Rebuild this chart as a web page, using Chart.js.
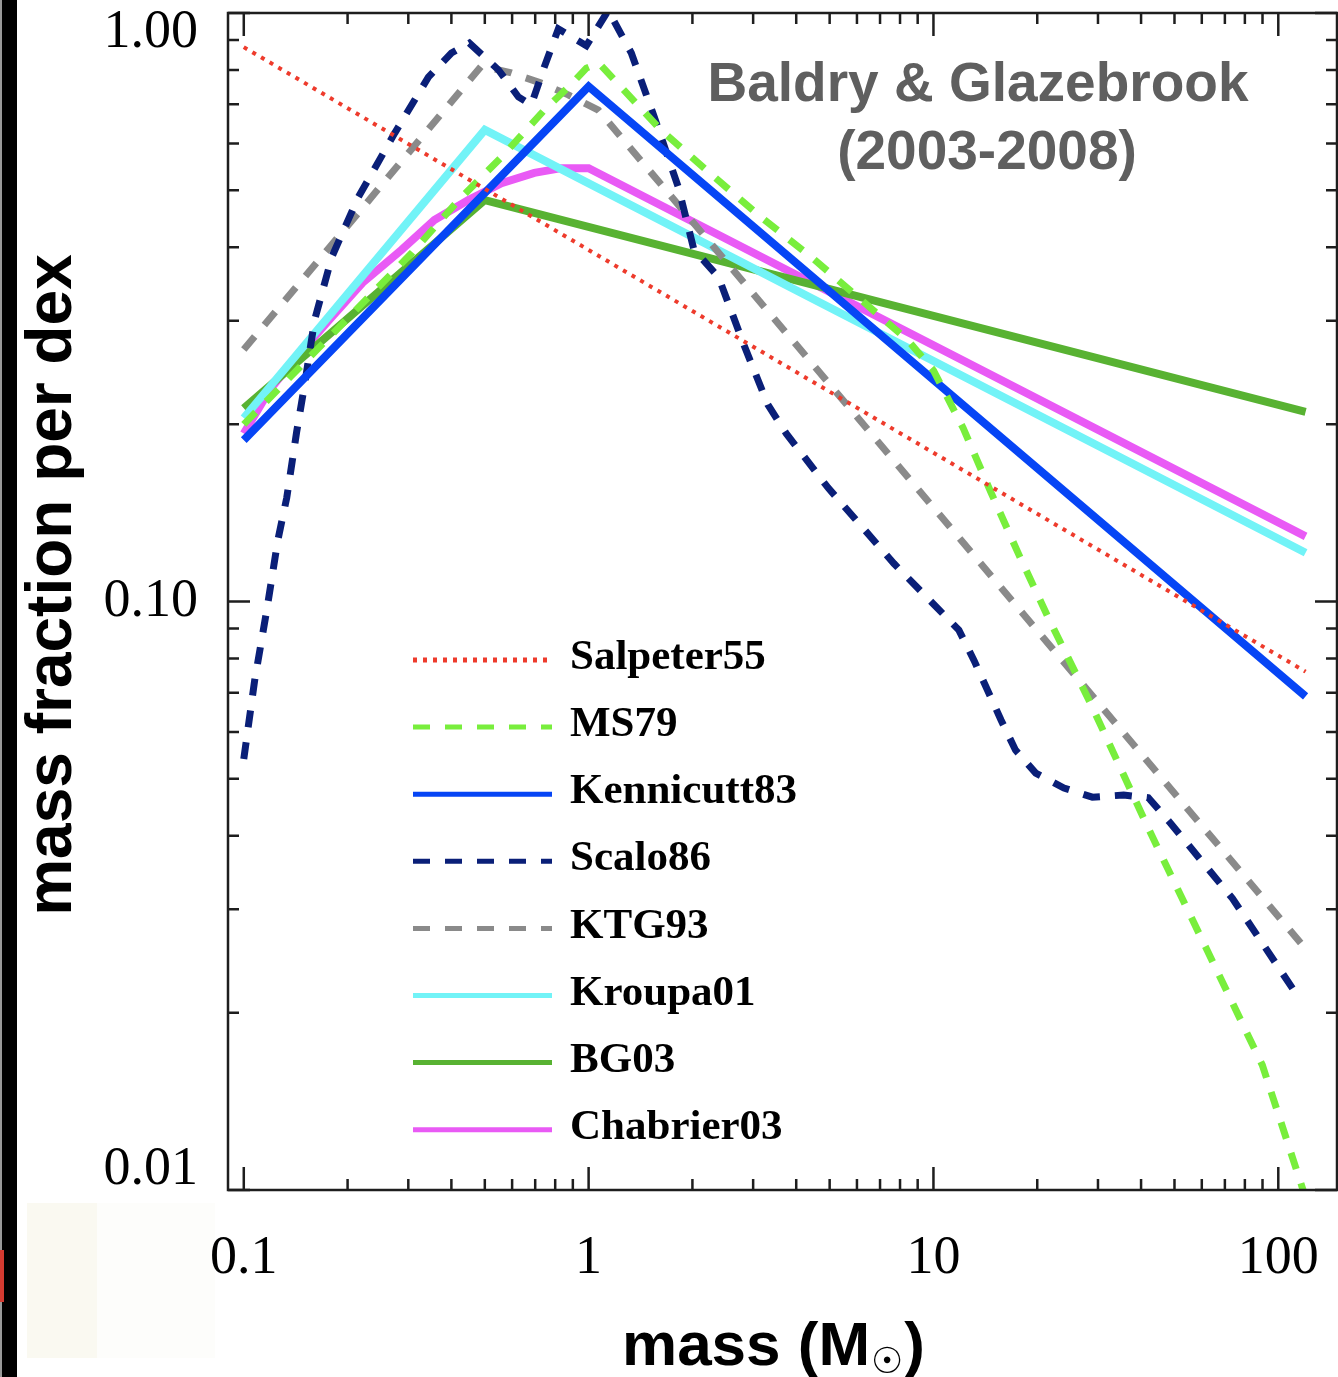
<!DOCTYPE html>
<html>
<head>
<meta charset="utf-8">
<title>IMF - mass fraction per dex</title>
<script src="https://cdn.jsdelivr.net/npm/chart.js@4.4.1/dist/chart.umd.min.js"></script>
<style>
    html, body { margin: 0; padding: 0; background: #fff; }
    #wrap { width: 1338px; height: 1377px; position: relative; }
</style>
</head>
<body>
<div id="wrap"><canvas id="myChart"></canvas></div>
<script>
// [mass (Msun), mass fraction per dex]
const salpeter55 = [[0.1, 0.875], [120, 0.076]];
const ms79 = [[0.1, 0.20], [0.307, 0.391], [0.42, 0.481], [0.559, 0.569], [0.744, 0.684], [0.873, 0.748],
    [0.985, 0.806], [1.07, 0.822], [1.19, 0.769], [1.62, 0.633], [2.31, 0.527], [3.16, 0.450], [4.42, 0.385],
    [6.04, 0.329], [8.43, 0.278], [10.0, 0.247], [12.2, 0.197], [14.7, 0.153], [17.7, 0.120], [21.5, 0.094],
    [28.6, 0.067], [41.8, 0.0414], [61.5, 0.0259], [89.9, 0.0163], [118, 0.0100]];
const kennicutt83 = [[0.1, 0.188], [1, 0.75], [120, 0.069]];
const scalo86 = [[0.1, 0.054], [0.1076, 0.0736], [0.1166, 0.0967], [0.1255, 0.127], [0.1332, 0.150],
    [0.1423, 0.194], [0.150, 0.233], [0.1605, 0.301], [0.180, 0.385], [0.215, 0.487], [0.274, 0.625],
    [0.343, 0.778], [0.400, 0.855], [0.451, 0.889], [0.548, 0.80], [0.626, 0.72], [0.682, 0.698],
    [0.744, 0.81], [0.817, 0.94], [0.985, 0.88], [1.14, 1.01], [1.33, 0.855], [1.55, 0.666], [1.82, 0.506],
    [2.02, 0.396], [2.38, 0.356], [2.82, 0.273], [3.31, 0.216], [3.74, 0.193], [4.95, 0.156], [7.68, 0.116],
    [11.85, 0.0894], [13.1, 0.0795], [15.7, 0.0629], [17.3, 0.0559], [19.8, 0.0511], [23.9, 0.0482],
    [28.9, 0.0465], [35.6, 0.0469], [42.0, 0.0464], [48.7, 0.0420], [73.6, 0.0313], [116, 0.021]];
const ktg93 = [[0.1, 0.268], [0.489, 0.813], [0.597, 0.791], [0.729, 0.76], [0.873, 0.726], [1.067, 0.684], [118, 0.026]];
const kroupa01 = [[0.1, 0.205], [0.5, 0.633], [120, 0.121]];
const bg03 = [[0.1, 0.213], [0.5, 0.481], [120, 0.21]];
const chabrier03 = [[0.1, 0.193], [0.119, 0.229], [0.142, 0.26], [0.177, 0.301], [0.221, 0.348], [0.287, 0.396],
    [0.357, 0.445], [0.448, 0.481], [0.559, 0.514], [0.696, 0.535], [0.833, 0.545], [1, 0.545], [120, 0.129]];

const xTicks = [0.1, 0.2, 0.3, 0.4, 0.5, 0.6, 0.7, 0.8, 0.9, 1, 2, 3, 4, 5, 6, 7, 8, 9,
    10, 20, 30, 40, 50, 60, 70, 80, 90, 100];
const yTicks = [0.01, 0.02, 0.03, 0.04, 0.05, 0.06, 0.07, 0.08, 0.09,
    0.1, 0.2, 0.3, 0.4, 0.5, 0.6, 0.7, 0.8, 0.9, 1];
const xMajor = [0.1, 1, 10, 100];
const xMajorLabels = ['0.1', '1', '10', '100'];
const yMajor = [0.01, 0.1, 1];
const yMajorLabels = ['0.01', '0.10', '1.00'];

function majorIndex(v, majors) {
    return majors.findIndex(m => Math.abs(v / m - 1) < 1e-6);
}

function series(label, pts, color, width, dash) {
    return {
        label: label,
        data: pts.map(p => ({x: p[0], y: p[1]})),
        borderColor: color,
        backgroundColor: color,
        borderWidth: width,
        borderDash: dash,
        pointRadius: 0,
        tension: 0,
        fill: false
    };
}

const serif = "'Liberation Serif', 'DejaVu Serif', serif";
const sans = "'Liberation Sans', Arial, sans-serif";

// frame, inward ticks, legend, texts
const decor = {
    id: 'decor',
    beforeDraw(chart) {
        const ctx = chart.ctx;
        ctx.save();
        ctx.fillStyle = '#fff';
        ctx.fillRect(0, 0, chart.width, chart.height);
        ctx.fillStyle = '#000';
        ctx.fillRect(2, 0, 15, chart.height);
        ctx.fillStyle = '#999';
        ctx.fillRect(0, 0, 2, chart.height);
        ctx.fillStyle = '#d43a30';
        ctx.fillRect(0, 1250, 4, 52);
        ctx.fillStyle = '#faf9f1';
        ctx.fillRect(27, 1203, 70, 155);
        ctx.fillStyle = '#fdfdfb';
        ctx.fillRect(97, 1203, 118, 155);
        ctx.restore();
    },
    afterDraw(chart) {
        const ctx = chart.ctx;
        const a = chart.chartArea;
        const xs = chart.scales.x, ys = chart.scales.y;
        ctx.save();
        ctx.strokeStyle = '#1e1e1e';
        ctx.lineWidth = 2.5;
        ctx.strokeRect(a.left, a.top, a.right - a.left, a.bottom - a.top);
        ctx.beginPath();
        xs.ticks.forEach(t => {
            const px = xs.getPixelForValue(t.value);
            const len = majorIndex(t.value, xMajor) >= 0 ? 23 : 11;
            ctx.moveTo(px, a.bottom); ctx.lineTo(px, a.bottom - len);
            ctx.moveTo(px, a.top); ctx.lineTo(px, a.top + len);
        });
        ys.ticks.forEach(t => {
            const py = ys.getPixelForValue(t.value);
            const len = majorIndex(t.value, yMajor) >= 0 ? 22 : 11;
            ctx.moveTo(a.left, py); ctx.lineTo(a.left + len, py);
            ctx.moveTo(a.right, py); ctx.lineTo(a.right - len, py);
        });
        ctx.stroke();

        // legend
        chart.data.datasets.forEach((ds, i) => {
            const y = 660 + i * 67.1;
            ctx.beginPath();
            ctx.strokeStyle = ds.borderColor;
            ctx.lineWidth = 5;
            ctx.setLineDash(ds.borderDash || []);
            ctx.moveTo(413, y); ctx.lineTo(552, y);
            ctx.stroke();
            ctx.setLineDash([]);
            ctx.fillStyle = '#000';
            ctx.font = 'bold 43px ' + serif;
            ctx.textBaseline = 'middle';
            ctx.textAlign = 'left';
            ctx.fillText(ds.label, 570, y - 2);
        });

        // annotation
        ctx.fillStyle = '#5f5f5f';
        ctx.font = 'bold 55px ' + sans;
        ctx.textAlign = 'center';
        ctx.textBaseline = 'alphabetic';
        ctx.fillText('Baldry & Glazebrook', 978, 101);
        ctx.fillText('(2003-2008)', 987, 169);

        // axis titles
        ctx.fillStyle = '#000';
        ctx.font = 'bold 62px ' + sans;
        ctx.textAlign = 'left';
        let x = 622;
        ctx.fillText('mass (M', x, 1365);
        x += ctx.measureText('mass (M').width;
        ctx.font = 'bold 36px ' + "'DejaVu Sans', sans-serif";
        ctx.fillText('\u2609', x + 1, 1373);
        x += ctx.measureText('\u2609').width + 2;
        ctx.font = 'bold 62px ' + sans;
        ctx.fillText(')', x, 1365);

        ctx.translate(71, 585);
        ctx.rotate(-Math.PI / 2);
        ctx.textAlign = 'center';
        ctx.font = 'bold 64px ' + sans;
        ctx.fillText('mass fraction per dex', 0, 0);
        ctx.restore();
    }
};

new Chart(document.getElementById('myChart'), {
    type: 'line',
    data: {
        datasets: [
            series('Salpeter55', salpeter55, '#ee3b2c', 4, [4, 6]),
            series('MS79', ms79, '#78ee3c', 7, [17, 15]),
            series('Kennicutt83', kennicutt83, '#0645f5', 8, []),
            series('Scalo86', scalo86, '#0a1f78', 7, [17, 15]),
            series('KTG93', ktg93, '#8a8a8a', 7, [17, 15]),
            series('Kroupa01', kroupa01, '#72f3f7', 8, []),
            series('BG03', bg03, '#58b232', 8, []),
            series('Chabrier03', chabrier03, '#e95af5', 8, [])
        ]
    },
    options: {
        responsive: true,
        maintainAspectRatio: false,
        animation: false,
        events: [],
        layout: {
            padding: {top: 13, right: 1, bottom: 0, left: 0}
        },
        scales: {
            x: {
                type: 'logarithmic',
                position: 'bottom',
                min: 0.09,
                max: 148,
                grid: {display: false},
                border: {display: false},
                afterBuildTicks: (scale) => {
                    scale.ticks = xTicks.map(v => ({value: v, major: majorIndex(v, xMajor) >= 0}));
                },
                afterFit: (scale) => {
                    scale.height = 187;
                    scale.paddingLeft = 0; scale.paddingRight = 0;
                    scale.paddingTop = 0; scale.paddingBottom = 0;
                },
                ticks: {
                    autoSkip: false,
                    maxRotation: 0,
                    minRotation: 0,
                    padding: 28,
                    color: '#000',
                    font: {family: serif, size: 54},
                    callback: (v) => {
                        const i = majorIndex(v, xMajor);
                        return i >= 0 ? xMajorLabels[i] : '';
                    }
                }
            },
            y: {
                type: 'logarithmic',
                position: 'left',
                min: 0.01,
                max: 1,
                grid: {display: false},
                border: {display: false},
                afterBuildTicks: (scale) => {
                    scale.ticks = yTicks.map(v => ({value: v, major: majorIndex(v, yMajor) >= 0}));
                },
                afterFit: (scale) => {
                    scale.width = 228;
                    scale.paddingLeft = 0; scale.paddingRight = 0;
                    scale.paddingTop = 0; scale.paddingBottom = 0;
                },
                ticks: {
                    autoSkip: false,
                    padding: 22,
                    color: '#000',
                    font: {family: serif, size: 54, lineHeight: 0.74},
                    callback: (v) => {
                        const i = majorIndex(v, yMajor);
                        if (i < 0) return '';
                        // keep the end labels inside the frame
                        if (i === yMajor.length - 1) return ['', yMajorLabels[i]];
                        if (i === 0) return [yMajorLabels[i], ''];
                        return yMajorLabels[i];
                    }
                }
            }
        },
        plugins: {
            legend: {display: false},
            tooltip: {enabled: false},
            title: {display: false}
        }
    },
    plugins: [decor]
});
</script>
</body>
</html>
